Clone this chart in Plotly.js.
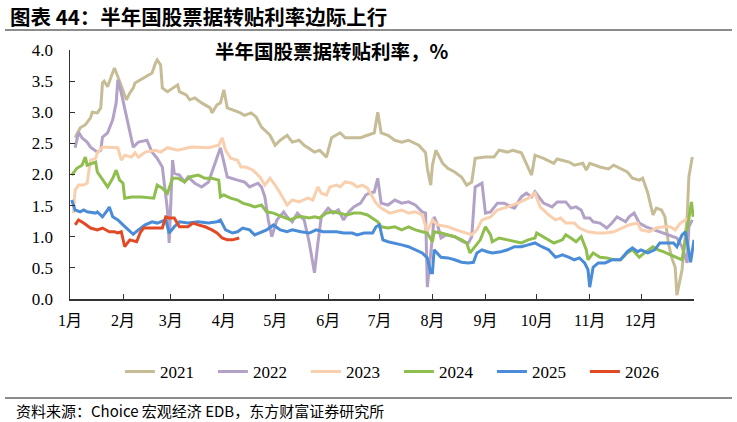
<!DOCTYPE html>
<html>
<head>
<meta charset="utf-8">
<script src="https://cdn.plot.ly/plotly-3.0.1.min.js"></script>
<style>html,body{margin:0;padding:0;background:#fff;}#chart{width:737px;height:422px;}</style>
</head>
<body>
<div id="chart"></div>
<script>
// Month axis (day of year)
const monthStarts = [0,31,59,90,120,151,181,212,243,273,304,334];
const monthLabels = ['1月','2月','3月','4月','5月','6月','7月','8月','9月','10月','11月','12月'];
const seriesNames = ['2021','2022','2023','2024','2025','2026'];

const days2021 = [3,6,9,12,13,16,18,19,20,22,23,26,28,31,33,35,37,38,48,50,51,53,54,57,60,63,64,68,70,73,77,82,83,86,88,90,92,99,102,106,109,112,117,120,123,127,130,134,137,143,146,150,153,158,161,170,174,178,180,182,186,190,194,198,204,208,209,211,212,214,218,221,225,229,232,235,237,243,248,251,256,259,264,268,270,272,277,283,285,292,295,300,302,304,310,315,318,326,329,333,335,338,340,341,343,346,348,350,352,354,355,358,361,362,364];
const rate2021 = [2.59,2.75,2.80,2.91,3.00,2.99,3.07,3.47,3.50,3.41,3.49,3.71,3.57,3.36,3.20,3.31,3.39,3.47,3.63,3.79,3.84,3.76,3.39,3.33,3.39,3.44,3.33,3.28,3.20,3.23,3.15,3.07,2.99,3.12,3.15,3.36,3.07,3.00,2.95,2.99,2.92,2.76,2.63,2.47,2.55,2.63,2.52,2.55,2.47,2.36,2.39,2.28,2.59,2.67,2.59,2.59,2.63,2.67,3.00,2.67,2.63,2.55,2.52,2.55,2.47,2.35,2.10,1.83,2.15,2.39,2.18,2.10,2.04,1.96,1.83,1.88,2.26,2.28,2.28,2.39,2.36,2.39,2.35,2.12,1.99,2.31,2.26,2.18,2.25,2.20,2.15,2.18,2.07,2.18,2.12,2.09,2.15,2.04,1.94,1.91,1.94,1.70,1.48,1.35,1.46,1.43,1.32,0.90,0.66,0.51,0.06,0.47,1.32,1.96,2.28];

const days2022 = [3,5,7,10,12,16,18,19,22,25,27,28,30,33,37,40,45,48,51,54,57,58,60,61,64,67,69,73,77,81,83,87,88,90,92,98,102,105,110,112,114,116,118,121,125,127,130,133,137,140,143,145,147,151,154,157,160,163,166,170,173,175,178,180,182,186,190,194,198,202,206,208,209,212,213,215,217,220,225,230,233,235,237,239,241,243,246,250,254,258,260,264,267,270,272,277,282,285,290,293,296,299,301,304,306,310,314,317,320,325,327,330,333,337,342,346,350,355,358,361,362,364];
const rate2022 = [2.43,2.68,2.59,2.52,2.44,2.36,2.39,2.60,2.67,2.88,3.15,3.52,3.31,2.92,2.44,2.52,2.55,2.36,2.26,2.12,1.43,0.90,2.23,2.02,1.99,1.88,1.96,1.86,1.80,1.88,2.04,2.35,2.43,2.20,1.96,1.91,1.88,1.80,1.86,1.80,1.64,1.27,1.00,1.27,1.40,1.32,1.24,1.38,1.27,0.90,0.42,0.90,1.32,1.46,1.38,1.43,1.27,1.40,1.48,1.54,1.67,1.70,1.72,1.94,1.54,1.51,1.59,1.54,1.56,1.51,1.40,1.38,0.19,1.00,1.32,1.19,0.98,1.03,1.00,0.92,0.90,1.00,1.80,1.83,1.86,1.38,1.40,1.54,1.54,1.48,1.46,1.64,1.70,1.64,1.72,1.54,1.48,1.56,1.56,1.46,1.48,1.43,1.30,1.30,1.24,1.22,1.14,1.22,1.32,1.24,1.32,1.38,1.22,1.16,1.11,1.06,1.03,0.98,0.84,0.58,1.16,1.27];

const days2023 = [2,3,5,8,10,12,15,16,19,26,28,30,32,36,38,40,44,50,53,57,63,71,76,81,87,89,91,94,98,100,103,107,111,114,117,120,123,127,130,134,139,142,145,147,150,152,156,158,161,165,168,171,174,177,179,182,187,194,198,202,206,209,212,215,221,226,231,235,238,241,246,250,256,262,268,272,275,280,284,287,290,295,298,303,308,313,318,323,327,332,334,339,343,347,351,354,357,360,363];
const rate2023 = [1.38,1.75,1.83,1.83,1.86,2.23,2.26,2.35,2.44,2.44,2.43,2.23,2.31,2.28,2.35,2.28,2.36,2.39,2.36,2.43,2.39,2.44,2.43,2.43,2.47,2.59,2.39,2.26,2.23,2.12,2.12,2.07,1.96,1.83,1.94,1.83,1.70,1.51,1.59,1.56,1.62,1.59,1.80,1.70,1.67,1.80,1.83,1.80,1.88,1.86,1.80,1.83,1.78,1.64,1.54,1.46,1.38,1.43,1.38,1.40,1.35,1.08,1.27,1.19,1.16,1.11,1.06,1.03,1.11,1.27,1.32,1.43,1.48,1.54,1.62,1.70,1.48,1.35,1.27,1.30,1.22,1.22,1.14,1.08,1.06,1.06,1.08,1.14,1.19,1.22,1.11,1.08,1.14,1.16,1.16,1.11,1.22,1.27,1.30];

const days2024 = [1,4,7,9,10,13,15,16,19,20,22,25,27,29,31,32,36,42,49,51,54,57,60,63,67,70,75,79,83,87,88,90,94,98,101,105,108,112,115,119,122,126,129,133,136,140,143,146,150,154,158,162,166,170,174,177,180,182,186,190,194,198,202,206,209,212,213,217,221,225,229,232,234,237,240,243,246,247,251,256,260,264,268,272,273,277,283,288,290,293,296,299,302,303,306,310,314,318,322,326,329,333,336,341,344,347,351,355,358,360,362,363.5,364.5];
const rate2024 = [1.99,2.10,2.15,2.28,2.15,2.18,2.20,2.04,1.91,1.88,1.80,1.94,2.07,1.91,1.86,1.62,1.64,1.64,1.62,1.83,1.78,1.70,1.94,1.94,1.88,1.96,1.99,1.94,1.94,1.91,1.64,1.67,1.62,1.59,1.54,1.51,1.48,1.51,1.40,1.38,1.35,1.30,1.27,1.32,1.32,1.30,1.32,1.30,1.38,1.40,1.38,1.35,1.38,1.38,1.35,1.30,1.24,1.16,1.14,1.16,1.11,1.16,1.11,1.08,1.06,0.92,1.08,1.06,1.03,1.00,0.95,0.90,0.74,0.84,0.95,1.16,1.03,0.92,0.98,0.95,0.92,0.90,0.95,0.98,1.06,1.00,0.90,0.95,1.03,0.98,0.92,1.00,0.79,0.63,0.74,0.67,0.66,0.63,0.63,0.74,0.79,0.67,0.74,0.84,0.79,0.76,0.71,0.66,0.63,0.95,1.32,1.56,1.32];

const days2025 = [1,3,6,8,10,15,16,19,22,23,25,28,31,34,37,40,44,48,51,56,58,61,64,69,75,81,86,88,91,95,98,101,105,108,112,115,119,123,127,130,135,140,144,148,152,156,160,165,168,172,177,179,181,183,186,190,194,198,202,206,209,211,212,213,217,221,225,229,233,236,238,241,244,247,252,256,260,264,268,272,276,280,284,288,292,295,298,301,303,304,306,309,313,317,322,326,329,332,334,338,342,345,349,353,355,358,360,363,365];
const rate2025 = [1.59,1.43,1.40,1.43,1.40,1.38,1.40,1.32,1.43,1.48,1.32,1.27,1.19,1.11,1.04,1.11,1.19,1.24,1.22,1.27,1.06,1.16,1.24,1.22,1.24,1.22,1.24,1.27,1.11,1.06,1.08,1.14,1.11,1.03,1.08,1.11,1.19,1.11,1.08,1.11,1.08,1.06,1.11,1.08,1.08,1.08,1.06,1.06,1.03,1.06,1.06,1.16,1.19,0.95,0.92,0.90,0.87,0.84,0.79,0.74,0.66,0.42,0.42,0.79,0.67,0.66,0.63,0.59,0.58,0.59,0.74,0.79,0.76,0.74,0.76,0.79,0.84,0.84,0.87,0.90,0.84,0.79,0.67,0.71,0.67,0.63,0.66,0.58,0.47,0.19,0.51,0.58,0.58,0.63,0.63,0.76,0.82,0.76,0.79,0.74,0.79,0.90,0.90,0.90,0.84,1.03,1.08,0.59,0.95];

const days2026 = [3,5,8,12,16,19,23,26,28,30,32,35,39,41,43,48,54,56,58,61,64,69,72,75,79,83,86,89,92,95,99];
const rate2026 = [1.19,1.27,1.22,1.14,1.11,1.14,1.08,1.08,1.06,1.08,0.84,0.95,0.92,1.06,1.14,1.14,1.14,1.32,1.30,1.30,1.16,1.16,1.22,1.19,1.16,1.11,1.06,0.98,0.95,0.95,0.98];

const seriesColors = ['#C6BD97','#B3A2C7','#F9CFAE','#8FBE4E','#4A8CD8','#E24A26'];
const allDays = [days2021,days2022,days2023,days2024,days2025,days2026];
const allRates = [rate2021,rate2022,rate2023,rate2024,rate2025,rate2026];

const traces = seriesNames.map((n,i)=>({
  type:'scatter', mode:'lines', name:n,
  x: allDays[i], y: allRates[i],
  line:{color:seriesColors[i], width:3}
}));

const serif = '"Liberation Serif","Times New Roman","Noto Sans CJK SC",serif';
const cjk = '"Noto Sans CJK SC","Noto Sans",sans-serif';

const layout = {
  width:737, height:422,
  margin:{l:70, r:43, t:50, b:123},
  paper_bgcolor:'#ffffff', plot_bgcolor:'#ffffff',
  showlegend:true,
  xaxis:{
    range:[0,365], tickmode:'array', tickvals:monthStarts, ticktext:monthLabels,
    ticks:'inside', ticklen:5, tickcolor:'#333', showline:true, linecolor:'#333', linewidth:1.5,
    showgrid:false, zeroline:false, ticklabelstandoff:6,
    tickfont:{family:serif, size:16, color:'#000'}
  },
  yaxis:{
    range:[0,4], tick0:0, dtick:0.5, tickformat:'.1f',
    ticks:'inside', ticklen:5, tickcolor:'#333', showline:true, linecolor:'#333', linewidth:1.5,
    showgrid:false, zeroline:false, ticklabelstandoff:12,
    tickfont:{family:serif, size:17, color:'#000'}
  },
  legend:{
    orientation:'h', x:0.08, xanchor:'left', y:-0.293, yanchor:'middle',
    font:{family:serif, size:17, color:'#000'}, itemwidth:30, entrywidth:48,
    bgcolor:'rgba(0,0,0,0)'
  },
  annotations:[
    {text:'<b>图表 44：半年国股票据转贴利率边际上行</b>', xref:'paper', yref:'paper',
     x:-0.0994, y:1.1366, xanchor:'left', yanchor:'middle', showarrow:false,
     font:{family:cjk, size:20.5, color:'#000'}},
    {text:'<b>半年国股票据转贴利率，%</b>', xref:'paper', yref:'paper',
     x:0.42, y:1.0, xanchor:'center', yanchor:'middle', showarrow:false,
     font:{family:cjk, size:19.5, color:'#000'}},
    {text:'资料来源：Choice 宏观经济 EDB，东方财富证券研究所', xref:'paper', yref:'paper',
     x:-0.0897, y:-0.4458, xanchor:'left', yanchor:'middle', showarrow:false,
     font:{family:cjk, size:15, color:'#000'}}
  ],
  shapes:[
    {type:'line', xref:'paper', yref:'paper', x0:-0.1042, x1:1.0609, y0:1.0803, y1:1.0803,
     line:{color:'#8c8c8c', width:2}},
    {type:'line', xref:'paper', yref:'paper', x0:-0.1042, x1:1.0609, y0:-0.3976, y1:-0.3976,
     line:{color:'#8c8c8c', width:2}}
  ]
};

Plotly.newPlot('chart', traces, layout, {displayModeBar:false, staticPlot:true});
</script>
</body>
</html>
